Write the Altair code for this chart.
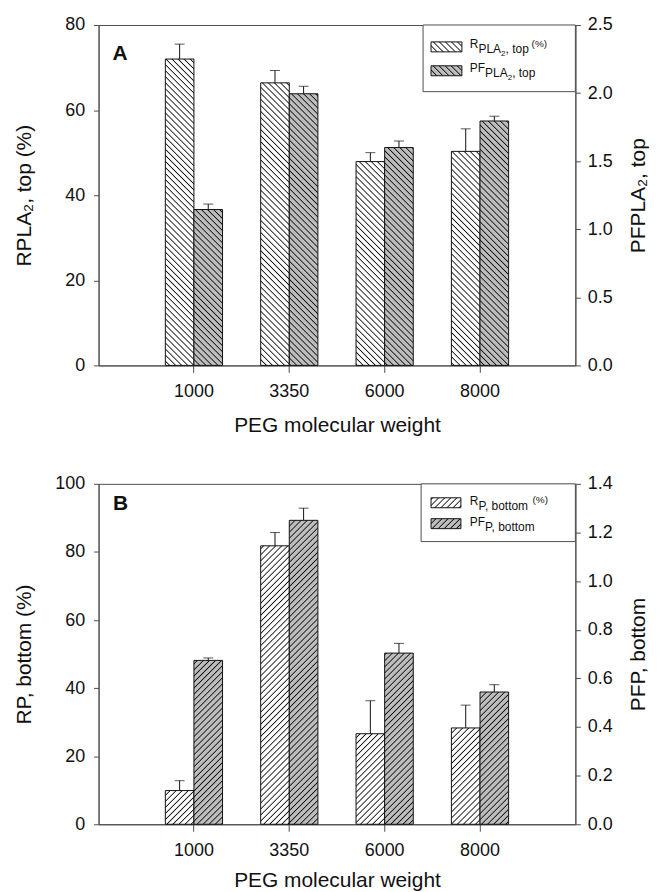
import altair as alt
import pandas as pd
import jinja2

# ---------------- data ----------------
mw = ["1000", "3350", "6000", "8000"]
series_names = ["R", "PF"]

r_top = [72.0, 66.4, 47.9, 50.3]
r_top_err = [3.5, 2.9, 2.1, 5.3]
pf_top = [1.145, 1.995, 1.600, 1.795]
pf_top_err = [0.040, 0.055, 0.048, 0.035]

r_bot = [9.9, 81.8, 26.6, 28.3]
r_bot_err = [2.9, 3.9, 9.7, 6.7]
pf_bot = [0.674, 1.250, 0.704, 0.544]
pf_bot_err = [0.010, 0.050, 0.040, 0.030]

ticks_r_top = [0, 20, 40, 60, 80]
ticks_pf_top = [0.0, 0.5, 1.0, 1.5, 2.0, 2.5]
ticks_r_bot = [0, 20, 40, 60, 80, 100]
ticks_pf_bot = [0.0, 0.2, 0.4, 0.6, 0.8, 1.0, 1.2, 1.4]

# ---------------- style ----------------
FONT = "Liberation Sans"
W, H = 479, 342
AXC = "#4d4d4d"
INK = "#111111"

ONE = pd.DataFrame({"k": [0]})


def make_df(vals, errs, series):
    return pd.DataFrame({
        "mw": mw,
        "series": [series] * len(mw),
        "value": vals,
        "hi": [v + e for v, e in zip(vals, errs)],
    })


def x_enc(title_y):
    return alt.X("mw:N", sort=mw,
                 scale=alt.Scale(paddingInner=0.4, paddingOuter=0.7),
                 axis=alt.Axis(title="PEG molecular weight", labelAngle=0, tickSize=7,
                               labelPadding=10, titleY=title_y, titleBaseline="middle"))


XO = alt.XOffset("series:N", sort=series_names,
                 scale=alt.Scale(domain=series_names, paddingInner=0, paddingOuter=0))


def y_enc(field, domain, ticks, orient, title, title_x):
    return alt.Y(f"{field}:Q",
                 scale=alt.Scale(domain=domain, nice=False, zero=True),
                 axis=alt.Axis(title=title, orient=orient, values=ticks, format=".1f" if domain[1] < 10 else "d",
                               tickSize=5, labelPadding=9 if orient == "left" else 7,
                               titleAngle=270, titleX=title_x, titleY=H / 2,
                               titleAlign="center", titleBaseline="middle"))


def series_layer(df, fill, xe, domain, ticks, orient, title, title_x):
    base = alt.Chart(df).encode(x=xe, xOffset=XO)
    bars = base.mark_bar(fill=fill, stroke=INK, strokeWidth=1).encode(
        y=y_enc("value", domain, ticks, orient, title, title_x))
    rules = base.mark_rule(color=INK, strokeWidth=1).encode(
        y=y_enc("value", domain, ticks, orient, title, title_x), y2="hi:Q")
    caps = base.mark_tick(orient="horizontal", size=10, thickness=1, color=INK).encode(
        y=y_enc("hi", domain, ticks, orient, title, title_x))
    return alt.layer(bars, rules, caps)


def txt(s, x, y, size=12, weight="normal", align="left", baseline="alphabetic"):
    return alt.Chart(ONE).mark_text(text=s, align=align, baseline=baseline, fontSize=size,
                                    font=FONT, fontWeight=weight, color=INK).encode(
        x=alt.value(x), y=alt.value(y))


def box(x1, x2, y1, y2, fill, stroke=INK, sw=1.0):
    return alt.Chart(ONE).mark_rect(fill=fill, stroke=stroke, strokeWidth=sw).encode(
        x=alt.value(x1), x2=alt.value(x2), y=alt.value(y1), y2=alt.value(y2))


# ---------------- panel A ----------------
xa = x_enc(60)
layA_r = series_layer(make_df(r_top, r_top_err, "R"), "url(#hAw)", xa, [0, 80], ticks_r_top,
                      "left", "RPLA₂, top (%)", -74)
layA_pf = series_layer(make_df(pf_top, pf_top_err, "PF"), "url(#hAg)", xa, [0, 2.5], ticks_pf_top,
                       "right", "PFPLA₂, top", 63)
annA = [
    box(326, W, 0, 67, "white", AXC),
    box(334, 365, 17, 27, "url(#hAw)"),
    box(334, 365, 41, 51, "url(#hAg)"),
    txt("R", 373, 23), txt("PLA", 381.7, 28.5), txt("2", 404.4, 31, size=8),
    txt(", top", 408.9, 28.5), txt("(%)", 435, 22, size=10),
    txt("PF", 373, 47), txt("PLA", 388.3, 52.5), txt("2", 411, 55, size=8),
    txt(", top", 415.5, 52.5),
    txt("A", 21.5, 29.5, size=21, weight="bold", align="center", baseline="middle"),
]
panelA = alt.layer(layA_r, layA_pf, *annA).resolve_scale(y="independent").properties(width=W, height=H)

# ---------------- panel B ----------------
xb = x_enc(57)
layB_r = series_layer(make_df(r_bot, r_bot_err, "R"), "url(#hBw)", xb, [0, 100], ticks_r_bot,
                      "left", "RP, bottom (%)", -74)
layB_pf = series_layer(make_df(pf_bot, pf_bot_err, "PF"), "url(#hBg)", xb, [0, 1.4], ticks_pf_bot,
                       "right", "PFP, bottom", 63)
annB = [
    box(324, W, 0, 58, "white", AXC),
    box(334, 364, 14, 24, "url(#hBw)"),
    box(334, 364, 35, 45, "url(#hBg)"),
    txt("R", 373, 21), txt("P, bottom", 381.7, 26), txt("(%)", 436, 19, size=10),
    txt("PF", 373, 42), txt("P, bottom", 388.3, 47),
    txt("B", 22, 20, size=21, weight="bold", align="center", baseline="middle"),
]
panelB = alt.layer(layB_r, layB_pf, *annB).resolve_scale(y="independent").properties(width=W, height=H)

chart = alt.vconcat(panelA, panelB, spacing=38).configure(font=FONT).configure_view(
    stroke=AXC, strokeWidth=1
).configure_axis(
    domainColor=AXC, tickColor=AXC, labelColor=INK, titleColor=INK,
    labelFont=FONT, titleFont=FONT, labelFontSize=18, titleFontSize=21,
    titleFontWeight="normal", grid=False, domainWidth=1, tickWidth=1,
)

# hatch patterns referenced by the bar fills
PATTERNS = """
<svg width="0" height="0" style="position:absolute;left:0;top:0">
 <defs>
  <pattern id="hAw" patternUnits="userSpaceOnUse" width="4.3" height="4.3" patternTransform="rotate(-45)">
   <rect x="0" y="0" width="4.3" height="4.3" fill="#ffffff"/>
   <line x1="2.15" y1="-1" x2="2.15" y2="5.3" stroke="#111" stroke-width="0.9"/>
  </pattern>
  <pattern id="hAg" patternUnits="userSpaceOnUse" width="4.3" height="4.3" patternTransform="rotate(-45)">
   <rect x="0" y="0" width="4.3" height="4.3" fill="#bdbdbd"/>
   <line x1="2.15" y1="-1" x2="2.15" y2="5.3" stroke="#111" stroke-width="0.9"/>
  </pattern>
  <pattern id="hBw" patternUnits="userSpaceOnUse" width="4.3" height="4.3" patternTransform="rotate(45)">
   <rect x="0" y="0" width="4.3" height="4.3" fill="#ffffff"/>
   <line x1="2.15" y1="-1" x2="2.15" y2="5.3" stroke="#111" stroke-width="0.9"/>
  </pattern>
  <pattern id="hBg" patternUnits="userSpaceOnUse" width="4.3" height="4.3" patternTransform="rotate(45)">
   <rect x="0" y="0" width="4.3" height="4.3" fill="#bdbdbd"/>
   <line x1="2.15" y1="-1" x2="2.15" y2="5.3" stroke="#111" stroke-width="0.9"/>
  </pattern>
 </defs>
</svg>
"""

TEMPLATE = jinja2.Template("""<!DOCTYPE html>
<html>
<head>
  <meta charset="utf-8">
  <style>
    #{{ output_div }}.vega-embed { width: 100%; display: flex; }
    #{{ output_div }}.vega-embed details,
    #{{ output_div }}.vega-embed details summary { position: relative; }
  </style>
  <script type="text/javascript" src="{{ base_url }}/vega@{{ vega_version }}"></script>
  <script type="text/javascript" src="{{ base_url }}/vega-lite@{{ vegalite_version }}"></script>
  <script type="text/javascript" src="{{ base_url }}/vega-embed@{{ vegaembed_version }}"></script>
</head>
<body>
""" + PATTERNS + """
  <div id="{{ output_div }}"></div>
  <script>
    (function(vegaEmbed) {
      var spec = {{ spec }};
      var embedOpt = Object.assign({"mode": "{{ mode }}"}, {{ embed_options }});
      function showError(el, error){
        el.innerHTML = ('<div style="color:red;"><p>JavaScript Error: ' + error.message + '</p></div>');
        throw error;
      }
      const el = document.getElementById('{{ output_div }}');
      vegaEmbed("#{{ output_div }}", spec, embedOpt).catch(error => showError(el, error));
    })(vegaEmbed);
  </script>
</body>
</html>
""")

chart.save("out.html", embed_options={"renderer": "svg", "actions": False}, template=TEMPLATE)
